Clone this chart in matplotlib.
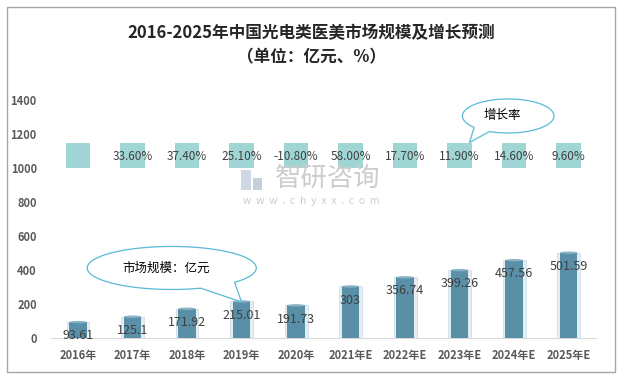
import numpy as np
import matplotlib.pyplot as plt
from matplotlib.patches import Polygon, Ellipse, Rectangle

plt.rcParams['font.family'] = ['Noto Sans CJK SC', 'DejaVu Sans']
plt.rcParams['axes.unicode_minus'] = False

# 数据
years = ["2016年", "2017年", "2018年", "2019年", "2020年",
         "2021年E", "2022年E", "2023年E", "2024年E", "2025年E"]
market = [93.61, 125.1, 171.92, 215.01, 191.73, 303, 356.74, 399.26, 457.56, 501.59]
market_labels = ["93.61", "125.1", "171.92", "215.01", "191.73",
                 "303", "356.74", "399.26", "457.56", "501.59"]
growth = [None, 33.6, 37.4, 25.1, -10.8, 58.0, 17.7, 11.9, 14.6, 9.6]
yticks = [0, 200, 400, 600, 800, 1000, 1200, 1400]

W, H = 622, 379
fig = plt.figure(figsize=(W / 100, H / 100), dpi=100)
fig.patch.set_facecolor("white")

# 外框
fig.add_artist(Rectangle((7 / W, 7 / H), 608 / W, 365 / H, transform=fig.transFigure,
                         fill=False, edgecolor="#a6a6a6", linewidth=1.0))

# 水印
fig.text(328 / W, 1 - 178 / H, "智研咨询", fontsize=19, color="#cccccc",
         ha="center", va="center", zorder=0)
fig.text(311 / W, 1 - 201 / H, "w  w  w  .  c  h  y  x  x  .  c  o  m", fontsize=7.5,
         color="#cccccc", ha="center", va="center", zorder=0)
fig.add_artist(Rectangle((241 / W, 1 - 190 / H), 10 / W, 20 / H, transform=fig.transFigure,
                         facecolor="#cdd8e3", edgecolor="none", zorder=0))
fig.add_artist(Rectangle((253 / W, 1 - 190 / H), 9 / W, 12 / H, transform=fig.transFigure,
                         facecolor="#c3d0dd", edgecolor="none", zorder=0))

ax = fig.add_axes([50.7 / W, 41 / H, 545.3 / W, 238 / H])
x = np.arange(len(years))

# 增长率方块 (放在1000-1150区间)
ax.bar(x, [150] * len(x), bottom=1000, width=0.45, color="#9fd6d4", zorder=2)
for i, g in enumerate(growth):
    if g is None:
        continue
    ax.text(i, 1070, "%.2f%%" % g, ha="center", va="center", fontsize=8.5,
            color="#404040", zorder=5)

# 圆柱形柱子
ax.bar(x, market, width=0.42, color="#e4eef2", edgecolor="#d0dfe6", linewidth=0.6, zorder=2)
ax.bar(x, market, width=0.32, color="#5a8fa8", zorder=3)
for i, v in enumerate(market):
    ax.add_patch(Ellipse((i, v), 0.32, 14, facecolor="#86b2c4", edgecolor="none", zorder=4))
    ax.add_patch(Ellipse((i, 0), 0.32, 14, facecolor="#5a8fa8", edgecolor="none", zorder=3))
    ax.text(i, v - 80, market_labels[i], ha="center", va="center", fontsize=9,
            color="#404040", zorder=5)

ax.set_xlim(-0.5, len(years) - 0.5)
ax.set_ylim(0, 1400)
ax.set_yticks(yticks)
ax.set_yticklabels([str(t) for t in yticks], fontsize=8, color="#595959", fontweight="bold")
ax.set_xticks(x)
ax.set_xticklabels(years, fontsize=8, color="#595959", fontweight="bold")
ax.tick_params(length=0, pad=8)
ax.tick_params(axis="y", pad=10)
for s in ["top", "right", "left"]:
    ax.spines[s].set_visible(False)
ax.spines["bottom"].set_color("#d9d9d9")
ax.set_facecolor("none")


# 对话气泡
def callout(cx, cy, w, h, gap, tip, text):
    a, b = np.radians(gap[0]), np.radians(gap[1])
    t = np.linspace(b, a + 2 * np.pi, 120)
    pts = np.column_stack([cx + w / 2 * np.cos(t), cy + h / 2 * np.sin(t)])
    pts = np.vstack([[tip], pts])
    ax.add_patch(Polygon(pts, closed=True, facecolor="white", edgecolor="#5bb8d8",
                         linewidth=0.9, zorder=6, clip_on=False))
    ax.text(cx - 0.1, cy, text, ha="center", va="center", fontsize=9, color="black",
            zorder=7, clip_on=False)


callout(1.72, 412, 3.1, 253, (-70, -42), (3.0, 212), "市场规模：亿元")
callout(7.89, 1306, 1.68, 200, (-138, -114), (7.18, 1150), "增长率")

# 标题
fig.text(0.5, 1 - 33 / H, "2016-2025年中国光电类医美市场规模及增长预测", fontsize=12,
         fontweight="bold", ha="center", va="center", color="#262626")
fig.text(0.5, 1 - 57 / H, "（单位：亿元、%）", fontsize=12, fontweight="bold",
         ha="center", va="center", color="#262626")

fig.savefig("out.png", dpi=100)
